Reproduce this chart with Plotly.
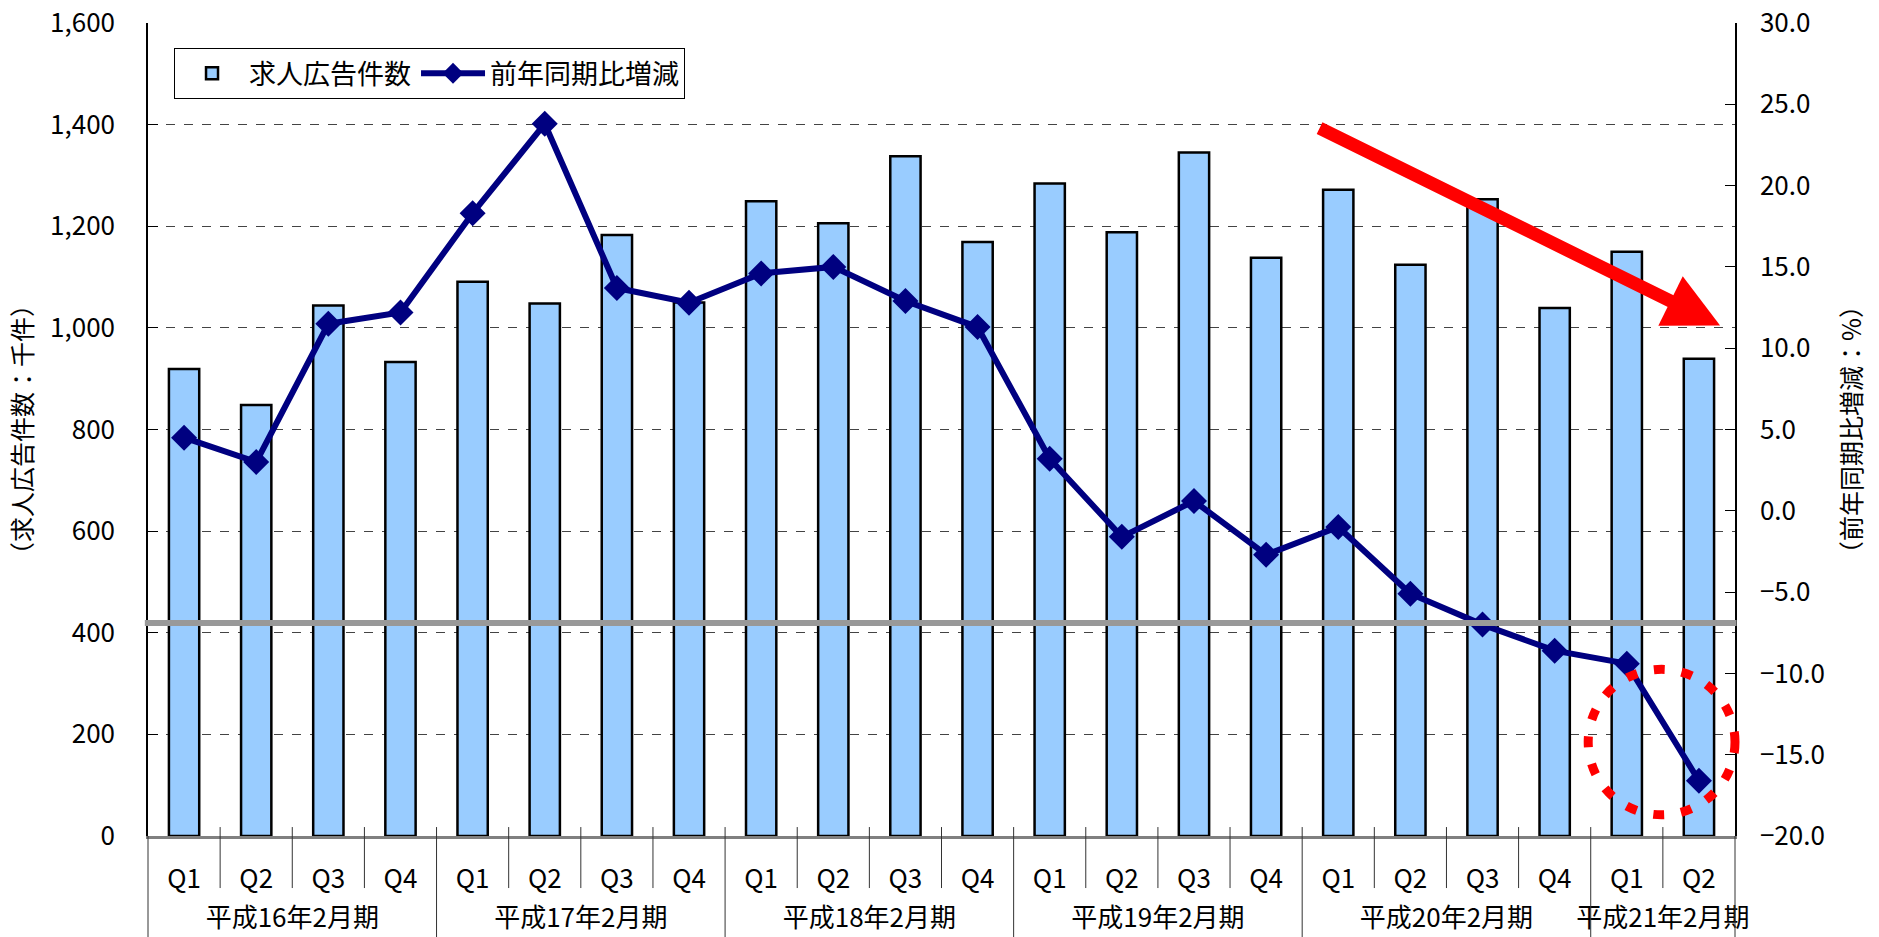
import plotly.graph_objects as go

# 決算期ごとの四半期
period_labels = ['平成16年2月期', '平成17年2月期', '平成18年2月期',
                 '平成19年2月期', '平成20年2月期', '平成21年2月期']
quarters_in_period = [4, 4, 4, 4, 4, 2]
quarter_names = ['Q1', 'Q2', 'Q3', 'Q4']

# 求人広告件数 (千件)
job_ads = [919, 848, 1044, 933,
           1091, 1048, 1183, 1050,
           1249, 1206, 1338, 1169,
           1284, 1188, 1345, 1138,
           1272, 1124, 1253, 1039,
           1150, 939]

# 前年同期比増減 (%)
yoy_change = [4.5, 3.0, 11.5, 12.2,
              18.3, 23.8, 13.7, 12.8,
              14.6, 15.0, 12.9, 11.3,
              3.2, -1.6, 0.6, -2.7,
              -1.0, -5.1, -7.0, -8.6,
              -9.4, -16.6]

reference_level = 419  # 灰色の基準線 (左軸)

x_period = []
x_quarter = []
for p, n in zip(period_labels, quarters_in_period):
    x_period += [p] * n
    x_quarter += quarter_names[:n]

FONT = "Noto Sans CJK JP"

fig = go.Figure()
fig.add_trace(go.Bar(
    x=[x_period, x_quarter], y=job_ads, name='求人広告件数',
    marker=dict(color='#99CCFF', line=dict(color='black', width=2.5)),
))
fig.add_trace(go.Scatter(
    x=[x_period, x_quarter], y=yoy_change, name='前年同期比増減', yaxis='y2',
    mode='lines+markers',
    line=dict(color='#000080', width=6),
    marker=dict(symbol='diamond', size=20, color='#000080'),
))

shapes = []
# 基準線
shapes.append(dict(type='line', xref='paper', yref='y', x0=-0.002, x1=1.001,
                   y0=reference_level, y1=reference_level,
                   line=dict(color='#999999', width=6), layer='above'))

# カテゴリ境界の目盛り線
n = len(job_ads)
group_edges = [0]
for q in quarters_in_period:
    group_edges.append(group_edges[-1] + q)
for i in range(n + 1):
    long_tick = i in group_edges
    shapes.append(dict(type='line', xref='paper', yref='paper',
                       x0=i / n, x1=i / n, y0=0.011 if 0 < i < n else 0,
                       y1=-0.13 if long_tick else -0.064,
                       line=dict(color='#333333', width=1)))

# 赤い点線の丸
shapes.append(dict(type='circle', xref='paper', yref='paper',
                   x0=0.9075, x1=1.0, y0=0.026, y1=0.205,
                   line=dict(color='#FF0000', width=9, dash='11px,17px')))

fig.update_layout(
    width=1879, height=937,
    margin=dict(l=148, r=144, t=23, b=101),
    plot_bgcolor='white', paper_bgcolor='white',
    font=dict(family=FONT, size=26, color='black'),
    bargap=0.58,
    showlegend=True,
    legend=dict(orientation='h', x=0.0164, y=0.969, xanchor='left', yanchor='top',
                bgcolor='white', bordercolor='black', borderwidth=1,
                font=dict(family=FONT, size=27), traceorder='normal',
                itemwidth=64),
    xaxis=dict(type='multicategory', range=[-0.5, n - 0.5], automargin=False,
               showline=True, linecolor='#808080', linewidth=3,
               tickson='labels', ticks='outside', ticklen=18,
               tickcolor='rgba(0,0,0,0)',
               showdividers=False, showgrid=False,
               tickfont=dict(family=FONT, size=26)),
    yaxis=dict(range=[0, 1600], dtick=200, tickformat=',d', automargin=False,
               showline=True, linecolor='black', linewidth=1.5,
               ticks='inside', ticklen=10, tickcolor='black',
               showgrid=True, gridcolor='#444444', gridwidth=1, griddash='dash',
               zeroline=False, ticklabelstandoff=26, ticklabeloverflow='allow',
               tickfont=dict(family=FONT, size=26),
               title=dict(text='（求人広告件数：千件）', standoff=10,
                          font=dict(family=FONT, size=25))),
    yaxis2=dict(range=[-20, 30], dtick=5, tickformat='.1f', overlaying='y', side='right',
                automargin=False,
                showline=True, linecolor='black', linewidth=1.5,
                ticks='inside', ticklen=10, tickcolor='black',
                showgrid=False, zeroline=False, ticklabelstandoff=18,
                ticklabeloverflow='allow',
                tickfont=dict(family=FONT, size=26),
                title=dict(text='（前年同期比増減：%）', standoff=20,
                           font=dict(family=FONT, size=25))),
    shapes=shapes,
)

# 下降トレンドの赤い矢印
fig.add_annotation(xref='paper', yref='paper', x=0.9906, y=0.628,
                   ax=-402, ay=-198, text='', showarrow=True,
                   arrowhead=2, arrowsize=0.85, arrowwidth=13, arrowcolor='#FF0000',
                   standoff=0)

# ページ本体の余白をなくして図をウィンドウいっぱいに置く
fig.write_html("out.html", config={'displayModeBar': False},
               post_script="document.body.style.margin='0';")
